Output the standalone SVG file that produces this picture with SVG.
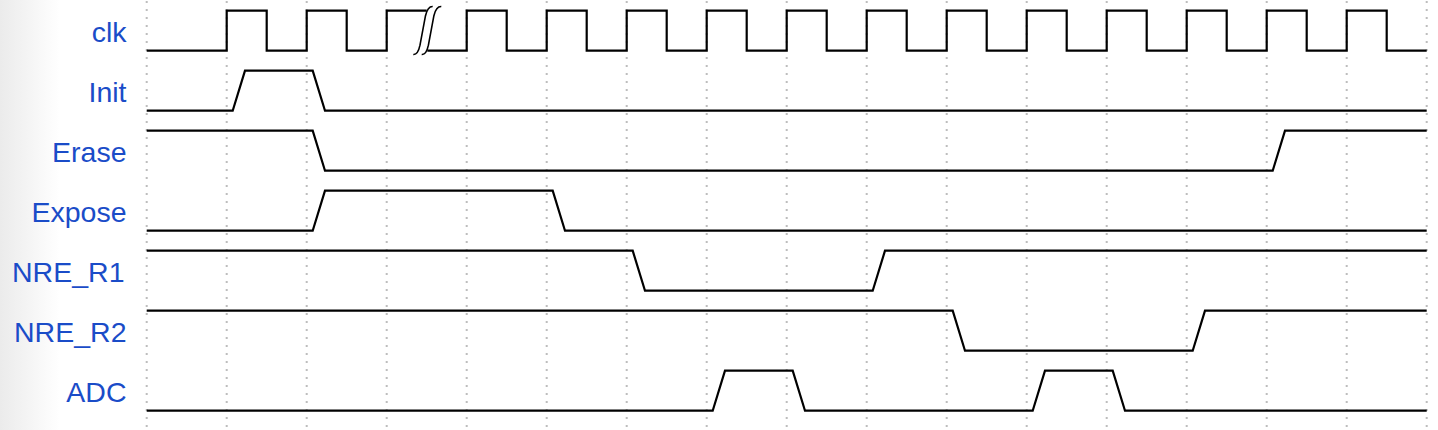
<svg xmlns="http://www.w3.org/2000/svg" width="1438" height="430" viewBox="0 0 1438 430">
  <defs>
    <linearGradient id="leftShade" x1="0" y1="0" x2="1" y2="0">
      <stop offset="0" stop-color="#ebebeb"/>
      <stop offset="1" stop-color="#ffffff"/>
    </linearGradient>
  </defs>
  <style>
    .lbl { font-family: "Liberation Sans", Arial, Helvetica, sans-serif; font-size: 28.5px; fill: #1a4cc8; text-anchor: end; }
    .grid { stroke: #bdbdbd; stroke-width: 2; stroke-dasharray: 2 6; fill: none; }
    .sig { stroke: #000; stroke-width: 2.2; fill: none; stroke-linejoin: miter; }
    .brk { stroke: #000; stroke-width: 1.6; fill: none; }
  </style>
  <rect x="0" y="0" width="1438" height="430" fill="#ffffff"/>
  <rect x="0" y="0" width="60" height="430" fill="url(#leftShade)"/>

  <g id="grid">
    <line class="grid" x1="146.7" y1="1" x2="146.7" y2="430"/>
    <line class="grid" x1="226.7" y1="1" x2="226.7" y2="430"/>
    <line class="grid" x1="306.7" y1="1" x2="306.7" y2="430"/>
    <line class="grid" x1="386.7" y1="1" x2="386.7" y2="430"/>
    <line class="grid" x1="466.7" y1="1" x2="466.7" y2="430"/>
    <line class="grid" x1="546.7" y1="1" x2="546.7" y2="430"/>
    <line class="grid" x1="626.7" y1="1" x2="626.7" y2="430"/>
    <line class="grid" x1="706.7" y1="1" x2="706.7" y2="430"/>
    <line class="grid" x1="786.7" y1="1" x2="786.7" y2="430"/>
    <line class="grid" x1="866.7" y1="1" x2="866.7" y2="430"/>
    <line class="grid" x1="946.7" y1="1" x2="946.7" y2="430"/>
    <line class="grid" x1="1026.7" y1="1" x2="1026.7" y2="430"/>
    <line class="grid" x1="1106.7" y1="1" x2="1106.7" y2="430"/>
    <line class="grid" x1="1186.7" y1="1" x2="1186.7" y2="430"/>
    <line class="grid" x1="1266.7" y1="1" x2="1266.7" y2="430"/>
    <line class="grid" x1="1346.7" y1="1" x2="1346.7" y2="430"/>
    <line class="grid" x1="1426.7" y1="1" x2="1426.7" y2="430"/>
  </g>

  <g id="labels">
    <text class="lbl" x="126.5" y="41.7">clk</text>
    <text class="lbl" x="126.5" y="101.7">Init</text>
    <text class="lbl" x="126.5" y="161.7">Erase</text>
    <text class="lbl" x="126.5" y="221.7">Expose</text>
    <text class="lbl" x="124.5" y="281.7">NRE_R1</text>
    <text class="lbl" x="126.5" y="341.7">NRE_R2</text>
    <text class="lbl" x="126.5" y="401.7">ADC</text>
  </g>

  <g id="waves" transform="translate(146.7,10.7)">
    <g id="clk">
      <path class="sig" d="M0,40 H80 V0 H120 V40 H160 V0 H200 V40 H240 V0 H280 M280.6,40 H320 V0 H360 V40 H400 V0 H440 V40 H480 V0 H520 V40 H560 V0 H600 V40 H640 V0 H680 V40 H720 V0 H760 V40 H800 V0 H840 V40 H880 V0 H920 V40 H960 V0 H1000 V40 H1040 V0 H1080 V40 H1120 V0 H1160 V40 H1200 V0 H1240 V40 H1280"/>
      <path class="brk" d="M266.6,43.8 C270.5,44.2 272,40.5 273.3,34.5 L278.8,5 C280.2,-1 282,-4.4 286,-4.2"/>
      <path class="brk" d="M275,43.8 C278.9,44.2 280.4,40.5 281.7,34.5 L287.2,5 C288.6,-1 290.4,-4.4 294.6,-4.2"/>
    </g>
    <g id="Init">
      <path class="sig" d="M0,100 H86 L98.3,60 H166 L178.3,100 H1280"/>
    </g>
    <g id="Erase">
      <path class="sig" d="M0,120 H166 L178.3,160 H1126 L1138.3,120 H1280"/>
    </g>
    <g id="Expose">
      <path class="sig" d="M0,220 H166 L178.3,180 H406 L418.3,220 H1280"/>
    </g>
    <g id="NRE_R1">
      <path class="sig" d="M0,240 H486 L498.3,280 H726 L738.3,240 H1280"/>
    </g>
    <g id="NRE_R2">
      <path class="sig" d="M0,300 H806 L818.3,340 H1046 L1058.3,300 H1280"/>
    </g>
    <g id="ADC">
      <path class="sig" d="M0,400 H566 L578.3,360 H646 L658.3,400 H886 L898.3,360 H966 L978.3,400 H1280"/>
    </g>
  </g>
</svg>
